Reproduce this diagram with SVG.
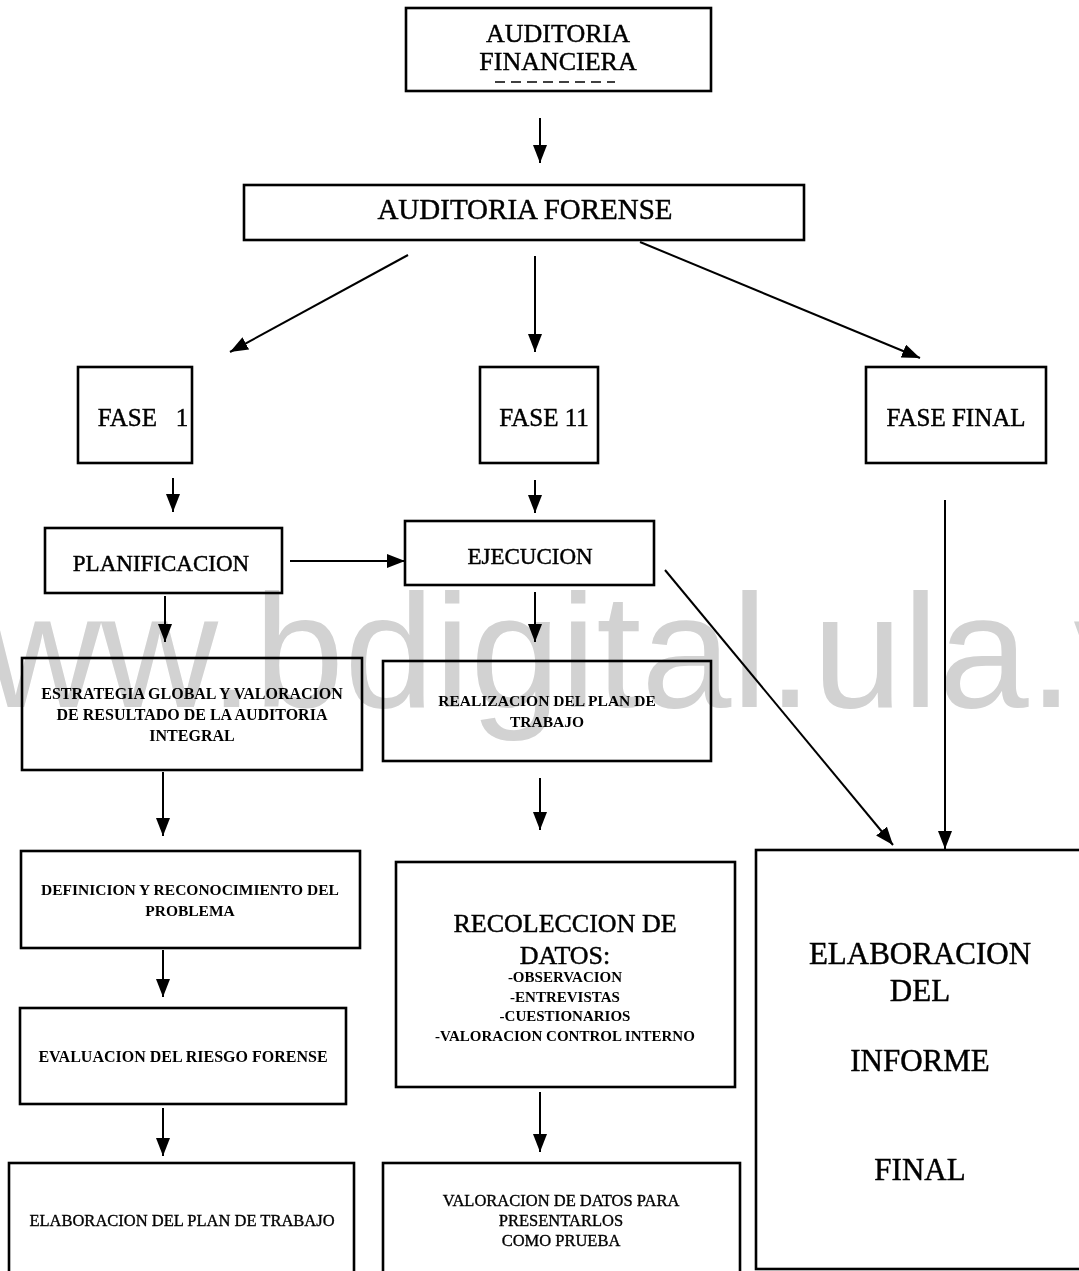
<svg xmlns="http://www.w3.org/2000/svg" width="1079" height="1271" viewBox="0 0 1079 1271">
<defs>
<marker id="ah" markerUnits="userSpaceOnUse" markerWidth="18" markerHeight="14" refX="18" refY="7" orient="auto">
<path d="M0,0 L18,7 L0,14 z" fill="#000"/>
</marker>
<style>
.box{fill:#fff;stroke:#000;stroke-width:2.6}
.wm{font-family:"Liberation Sans",Arial,sans-serif;fill:#d2d2d2;mix-blend-mode:multiply}
.r{font-family:"Liberation Serif","Times New Roman",serif;fill:#000;stroke:#000;stroke-width:0.45;text-anchor:middle}
.b{font-family:"Liberation Serif","Times New Roman",serif;font-weight:bold;fill:#000;text-anchor:middle}
.c line{stroke:#000;stroke-width:2;marker-end:url(#ah)}
</style>
</defs>
<rect width="1079" height="1271" fill="#fff"/>

<g class="c" id="connectors">
<line x1="540" y1="118" x2="540" y2="163"/>
<line x1="408" y1="255" x2="230" y2="352"/>
<line x1="535" y1="256" x2="535" y2="352"/>
<line x1="640" y1="242" x2="920" y2="358"/>
<line x1="173" y1="478" x2="173" y2="512"/>
<line x1="535" y1="480" x2="535" y2="513"/>
<line x1="290" y1="561" x2="405" y2="561"/>
<line x1="165" y1="596" x2="165" y2="642"/>
<line x1="535" y1="592" x2="535" y2="642"/>
<line x1="665" y1="570" x2="893" y2="845"/>
<line x1="945" y1="500" x2="945" y2="849"/>
<line x1="163" y1="772" x2="163" y2="836"/>
<line x1="540" y1="778" x2="540" y2="830"/>
<line x1="163" y1="950" x2="163" y2="997"/>
<line x1="540" y1="1092" x2="540" y2="1152"/>
<line x1="163" y1="1108" x2="163" y2="1156"/>
</g>

<g id="auditoria-financiera">
<rect class="box" x="406" y="8" width="305" height="83"/>
<text class="r" x="558" y="42" font-size="26">AUDITORIA</text>
<text class="r" x="558" y="70" font-size="26">FINANCIERA</text>
<line x1="495" y1="82" x2="615" y2="82" stroke="#000" stroke-width="1.5" stroke-dasharray="10,6"/>
</g>
<g id="auditoria-forense">
<rect class="box" x="244" y="185" width="560" height="55"/>
<text class="r" x="525" y="219" font-size="29">AUDITORIA FORENSE</text>
</g>
<g id="fase1">
<rect class="box" x="78" y="367" width="114" height="96"/>
<text class="r" x="143" y="426" font-size="25" xml:space="preserve">FASE   1</text>
</g>
<g id="fase11">
<rect class="box" x="480" y="367" width="118" height="96"/>
<text class="r" x="544" y="426" font-size="25">FASE 11</text>
</g>
<g id="fase-final">
<rect class="box" x="866" y="367" width="180" height="96"/>
<text class="r" x="956" y="426" font-size="25">FASE FINAL</text>
</g>
<g id="planificacion">
<rect class="box" x="45" y="528" width="237" height="65"/>
<text class="r" x="161" y="571" font-size="23">PLANIFICACION</text>
</g>
<g id="ejecucion">
<rect class="box" x="405" y="521" width="249" height="64"/>
<text class="r" x="530" y="564" font-size="23">EJECUCION</text>
</g>
<g id="estrategia">
<rect class="box" x="22" y="658" width="340" height="112"/>
<text class="b" x="192" y="699" font-size="16">ESTRATEGIA GLOBAL Y VALORACION</text>
<text class="b" x="192" y="720" font-size="16">DE RESULTADO DE LA AUDITORIA</text>
<text class="b" x="192" y="741" font-size="16">INTEGRAL</text>
</g>
<g id="realizacion">
<rect class="box" x="383" y="661" width="328" height="100"/>
<text class="b" x="547" y="706" font-size="15.5">REALIZACION DEL PLAN DE</text>
<text class="b" x="547" y="727" font-size="15.5">TRABAJO</text>
</g>
<g id="definicion">
<rect class="box" x="21" y="851" width="339" height="97"/>
<text class="b" x="190" y="895" font-size="15.5">DEFINICION Y RECONOCIMIENTO DEL</text>
<text class="b" x="190" y="916" font-size="15.5">PROBLEMA</text>
</g>
<g id="recoleccion">
<rect class="box" x="396" y="862" width="339" height="225"/>
<text class="r" x="565" y="932" font-size="26">RECOLECCION DE</text>
<text class="r" x="565" y="964" font-size="26">DATOS:</text>
<text class="b" x="565" y="982" font-size="15">-OBSERVACION</text>
<text class="b" x="565" y="1002" font-size="15">-ENTREVISTAS</text>
<text class="b" x="565" y="1021" font-size="15">-CUESTIONARIOS</text>
<text class="b" x="565" y="1041" font-size="15">-VALORACION CONTROL INTERNO</text>
</g>
<g id="evaluacion">
<rect class="box" x="20" y="1008" width="326" height="96"/>
<text class="b" x="183" y="1062" font-size="16">EVALUACION DEL RIESGO FORENSE</text>
</g>
<g id="elaboracion-plan">
<rect class="box" x="9" y="1163" width="345" height="115"/>
<text class="r" x="182" y="1226" font-size="16.5" style="stroke-width:0.35">ELABORACION DEL PLAN DE TRABAJO</text>
</g>
<g id="valoracion">
<rect class="box" x="383" y="1163" width="357" height="115"/>
<text class="r" x="561" y="1206" font-size="16.5" style="stroke-width:0.35">VALORACION DE DATOS PARA</text>
<text class="r" x="561" y="1226" font-size="16.5" style="stroke-width:0.35">PRESENTARLOS</text>
<text class="r" x="561" y="1246" font-size="16.5" style="stroke-width:0.35">COMO PRUEBA</text>
</g>
<g id="elaboracion-informe">
<rect class="box" x="756" y="850" width="330" height="419"/>
<text class="r" x="920" y="964" font-size="31">ELABORACION</text>
<text class="r" x="920" y="1001" font-size="31">DEL</text>
<text class="r" x="920" y="1071" font-size="31">INFORME</text>
<text class="r" x="920" y="1180" font-size="31">FINAL</text>
</g>

<text class="wm" x="-133" y="707" font-size="162">www.bdigital.ula.ve</text>
</svg>
